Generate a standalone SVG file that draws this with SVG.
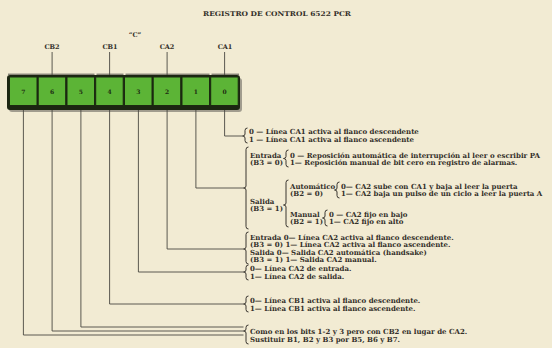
<svg xmlns="http://www.w3.org/2000/svg" width="552" height="348" viewBox="0 0 552 348">
<style>
.t{font-family:"DejaVu Serif","Liberation Serif",serif;font-weight:bold;font-size:7px;fill:#34302a}
.s{font-size:6.5px}
.d{font-family:"DejaVu Serif","Liberation Serif",serif;font-weight:bold;font-size:6px;fill:#1d2b12;text-anchor:middle}
.ln{fill:none;stroke:#4a4842;stroke-width:0.9}
.br{fill:none;stroke:#3a3630;stroke-width:1}
.cell{fill:#5cb436;stroke:#1b2a10;stroke-width:1}
</style>
<rect width="552" height="348" fill="#f2ebd3"/>
<text class="t s" x="277" y="16" text-anchor="middle" textLength="148" lengthAdjust="spacingAndGlyphs">REGISTRO DE CONTROL 6522 PCR</text>
<g id="labels">
<text class="t s" x="135" y="37" text-anchor="middle">“C”</text>
<text class="t s" x="52" y="49" text-anchor="middle">CB2</text>
<text class="t s" x="110" y="49" text-anchor="middle">CB1</text>
<text class="t s" x="167" y="49" text-anchor="middle">CA2</text>
<text class="t s" x="225" y="49" text-anchor="middle">CA1</text>
</g>
<g id="register">
<rect x="9" y="78" width="233" height="34" rx="3" fill="#6b6860" opacity="0.6"/>
<rect x="7" y="75" width="233" height="35" rx="3" fill="#1c2512"/>
<rect class="cell" x="9.5" y="77" width="27.5" height="28.5"/>
<rect class="cell" x="38.2" y="77" width="27.5" height="28.5"/>
<rect class="cell" x="67" y="77" width="27.5" height="28.5"/>
<rect class="cell" x="95.7" y="77" width="27.5" height="28.5"/>
<rect class="cell" x="124.5" y="77" width="27.5" height="28.5"/>
<rect class="cell" x="153.2" y="77" width="27.5" height="28.5"/>
<rect class="cell" x="182" y="77" width="27.5" height="28.5"/>
<rect class="cell" x="210.7" y="77" width="27.5" height="28.5"/>
<text class="d" x="23.4" y="94">7</text>
<text class="d" x="52.1" y="94">6</text>
<text class="d" x="80.9" y="94">5</text>
<text class="d" x="109.6" y="94">4</text>
<text class="d" x="138.4" y="94">3</text>
<text class="d" x="167.1" y="94">2</text>
<text class="d" x="195.9" y="94">1</text>
<text class="d" x="224.6" y="94">0</text>
<path class="ln" d="M8,74.2H94.5M96.5,74.2H123.5M125.5,74.2H209.5M211.5,74.2H239" stroke="#8a877d"/>
</g>
<g id="connectors">
<path class="ln" d="M52.1,52V75M109.6,52V75M167.1,52V75M224.6,52V75"/>
<path class="ln" d="M224.6,110V136H242.5"/>
<path class="ln" d="M195.9,110V188H243.5"/>
<path class="ln" d="M167.1,110V249H243.5"/>
<path class="ln" d="M138.4,110V272H243.5"/>
<path class="ln" d="M109.6,110V304H243.5"/>
<path class="ln" d="M80.9,110V327H243.5"/>
<path class="ln" d="M52.1,110V331H243.5"/>
<path class="ln" d="M23.4,110V335H243.5"/>
</g>
<g id="braces">
<path class="br" d="M247.5,128Q245,128 245,130.5V134Q245,136 242.5,136Q245,136 245,138V140.5Q245,143 247.5,143"/>
<path class="br" d="M248.5,147Q246,147 246,149.5V186Q246,188 243.5,188Q246,188 246,190V226.5Q246,229 248.5,229"/>
<path class="br" d="M288.5,150Q286,150 286,152.5V156.5Q286,158.5 283.5,158.5Q286,158.5 286,160.5V164.5Q286,167 288.5,167"/>
<path class="br" d="M288.5,180Q286,180 286,182.5V203Q286,205 283.5,205Q286,205 286,207V224.5Q286,227 288.5,227"/>
<path class="br" d="M339.5,182Q337,182 337,184.5V188Q337,190 334.5,190Q337,190 337,192V195.5Q337,198 339.5,198"/>
<path class="br" d="M327.5,210Q325,210 325,212.5V216Q325,218 322.5,218Q325,218 325,220V223.5Q325,226 327.5,226"/>
<path class="br" d="M248.5,232Q246,232 246,234.5V247Q246,249 243.5,249Q246,249 246,251V261.5Q246,264 248.5,264"/>
<path class="br" d="M248.5,265Q246,265 246,267.5V270Q246,272 243.5,272Q246,272 246,274V277.5Q246,280 248.5,280"/>
<path class="br" d="M248.5,296Q246,296 246,298.5V302Q246,304 243.5,304Q246,304 246,306V309.5Q246,312 248.5,312"/>
<path class="br" d="M248.5,325Q246,325 246,327.5V329Q246,331 243.5,331Q246,331 246,333V341.5Q246,344 248.5,344"/>
</g>
<g id="bit0">
<text class="t" x="249" y="133.5">0 — Línea CA1 activa al flanco descendente</text>
<text class="t" x="249" y="141.5">1 — Línea CA1 activa al flanco ascendente</text>
</g>
<g id="bit1">
<text class="t" x="250" y="157.5">Entrada</text>
<text class="t" x="250" y="165">(B3 = 0)</text>
<text class="t" x="290" y="157.5">0 — Reposición automática de interrupción al leer o escribir PA</text>
<text class="t" x="290" y="165">1— Reposición manual de bit cero en registro de alarmas.</text>
<text class="t" x="250" y="203.5">Salida</text>
<text class="t" x="250" y="211">(B3 = 1)</text>
<text class="t" x="290" y="188.5">Automático</text>
<text class="t" x="290" y="196">(B2 = 0)</text>
<text class="t" x="341" y="188.5">0— CA2 sube con CA1 y baja al leer la puerta</text>
<text class="t" x="341" y="196">1— CA2 baja un pulso de un ciclo a leer la puerta A</text>
<text class="t" x="290" y="216.5">Manual</text>
<text class="t" x="290" y="224">(B2 = 1)</text>
<text class="t" x="329" y="216.5">0 — CA2 fijo en bajo</text>
<text class="t" x="329" y="224">1— CA2 fijo en alto</text>
</g>
<g id="bit2">
<text class="t" x="250" y="239.5">Entrada 0— Línea CA2 activa al flanco descendente.</text>
<text class="t" x="250" y="247">(B3 = 0) 1— Línea CA2 activa al flanco ascendente.</text>
<text class="t" x="250" y="254.5">Salida 0— Salida CA2 automática (handsake)</text>
<text class="t" x="250" y="262">(B3 = 1) 1— Salida CA2 manual.</text>
</g>
<g id="bit3">
<text class="t" x="250" y="270.5">0— Línea CA2 de entrada.</text>
<text class="t" x="250" y="278.5">1— Línea CA2 de salida.</text>
</g>
<g id="bit4">
<text class="t" x="250" y="302.5">0— Línea CB1 activa al flanco descendente.</text>
<text class="t" x="250" y="310.5">1— Línea CB1 activa al flanco ascendente.</text>
</g>
<g id="bits567">
<text class="t" x="250" y="333.5">Como en los bits 1-2 y 3 pero con CB2 en lugar de CA2.</text>
<text class="t" x="250" y="342">Sustituir B1, B2 y B3 por B5, B6 y B7.</text>
</g>
</svg>
